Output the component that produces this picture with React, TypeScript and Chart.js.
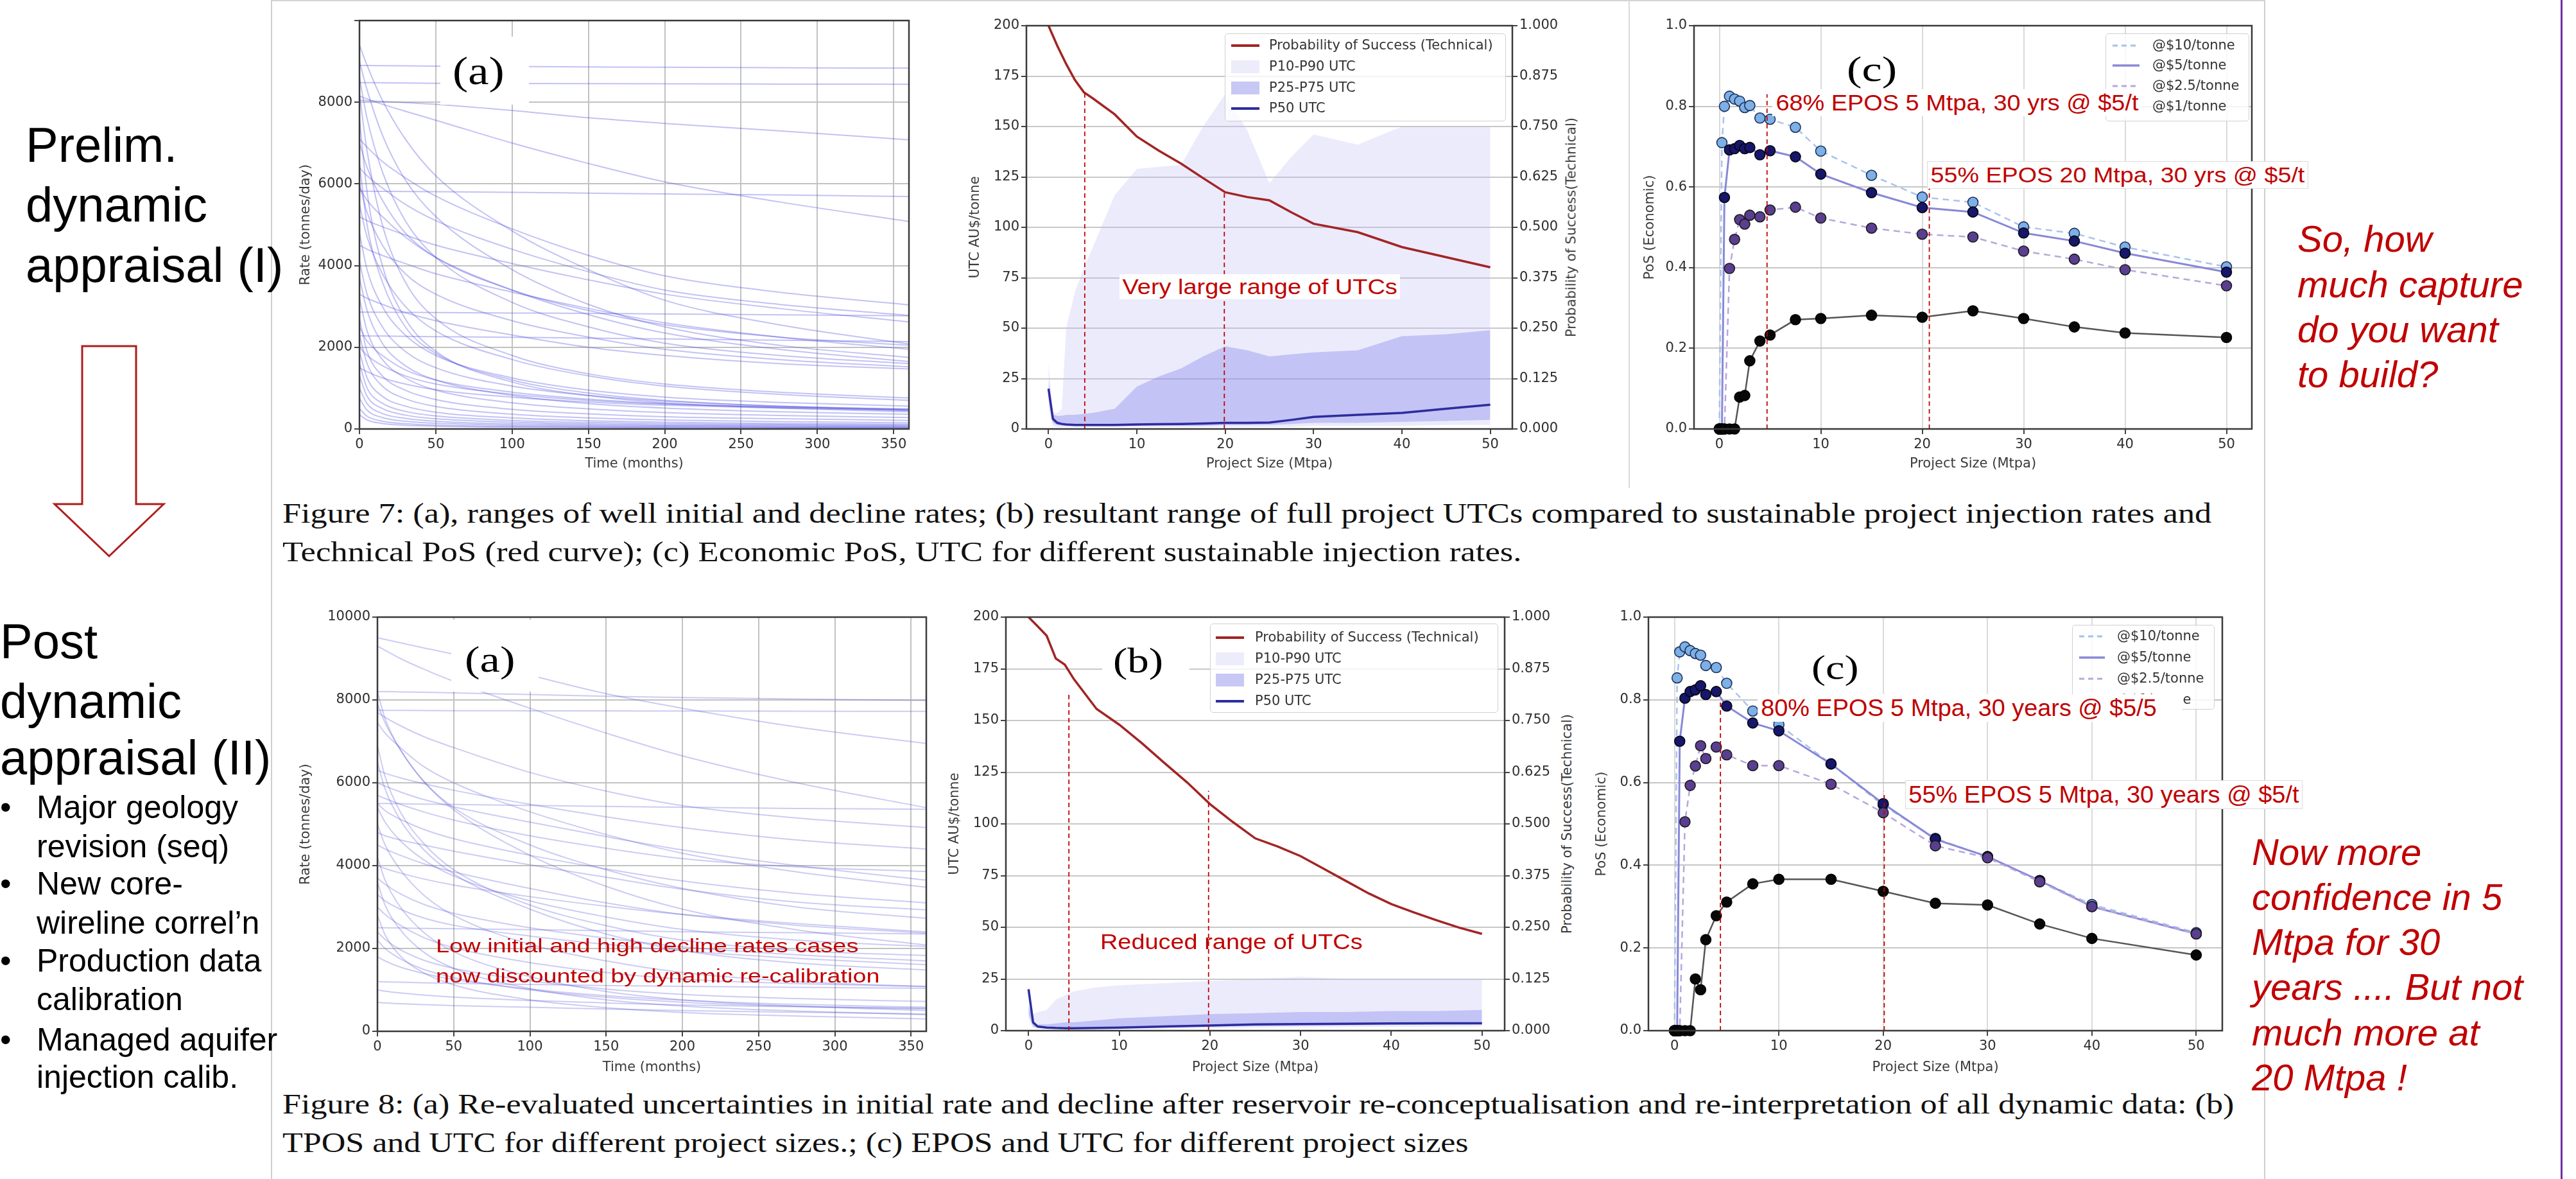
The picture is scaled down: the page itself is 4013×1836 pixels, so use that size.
import React, { useEffect, useLayoutEffect, useRef } from 'react';
import { Chart, registerables } from 'chart.js';
Chart.register(...registerables);

// ---------------- DATA ----------------
const rateTimes = [0, 5, 15, 30, 50, 100, 150, 200, 275, 360];
const rateTicksX = [0, 50, 100, 150, 200, 250, 300, 350];
const rateTicksY = [0, 2000, 4000, 6000, 8000, 10000];

const prelimRateCurves = [
  [8900, 8900, 8895, 8890, 8885, 8875, 8865, 8855, 8845, 8835],
  [8480, 8480, 8475, 8470, 8465, 8460, 8455, 8450, 8445, 8440],
  [8050, 8040, 8020, 7990, 7950, 7800, 7620, 7480, 7300, 7080],
  [8150, 8080, 7950, 7780, 7560, 7000, 6500, 6050, 5560, 5080],
  [5820, 5820, 5818, 5815, 5810, 5795, 5775, 5755, 5730, 5690],
  [9400, 8900, 8050, 7100, 6200, 4850, 3900, 3150, 2550, 2080],
  [9000, 8300, 7200, 6100, 5200, 3900, 3050, 2500, 2050, 1750],
  [8600, 7600, 6300, 5100, 4200, 3100, 2500, 2100, 1800, 1600],
  [7100, 6900, 6550, 6150, 5700, 4900, 4250, 3750, 3350, 3040],
  [6400, 6200, 5900, 5500, 5100, 4400, 3850, 3400, 3050, 2780],
  [7000, 6400, 5600, 4800, 4200, 3400, 2900, 2550, 2250, 2050],
  [5200, 5100, 4950, 4750, 4500, 4050, 3650, 3300, 2950, 2620],
  [4500, 4400, 4250, 4050, 3800, 3350, 2950, 2600, 2250, 1950],
  [6000, 5300, 4500, 3800, 3300, 2650, 2250, 1950, 1700, 1520],
  [2860, 2860, 2858, 2855, 2850, 2840, 2830, 2815, 2795, 2770],
  [2280, 2278, 2274, 2268, 2260, 2245, 2225, 2205, 2175, 2140],
  [5500, 4700, 3800, 3000, 2400, 1700, 1300, 1050, 850, 700],
  [4800, 3900, 3000, 2300, 1800, 1250, 950, 780, 650, 560],
  [4100, 3300, 2500, 1900, 1500, 1050, 820, 680, 560, 480],
  [6500, 5000, 3600, 2500, 1850, 1200, 880, 700, 560, 450],
  [3700, 2900, 2100, 1550, 1200, 820, 620, 510, 420, 360],
  [3200, 2400, 1700, 1250, 950, 640, 490, 400, 330, 280],
  [2700, 1900, 1300, 950, 720, 480, 370, 300, 250, 210],
  [2300, 1600, 1050, 740, 550, 360, 270, 220, 180, 150],
  [1900, 1250, 800, 560, 410, 270, 200, 165, 135, 115],
  [1600, 1000, 630, 430, 320, 210, 160, 130, 110, 90],
  [1300, 800, 500, 340, 250, 165, 125, 100, 85, 70],
  [1000, 620, 380, 260, 190, 125, 95, 78, 65, 55],
  [750, 460, 280, 190, 140, 92, 70, 58, 48, 40],
  [500, 310, 190, 130, 95, 62, 48, 40, 33, 28],
  [350, 220, 135, 92, 68, 45, 35, 28, 24, 20],
  [7600, 5800, 4000, 2700, 1900, 1150, 820, 640, 510, 420],
  [8200, 6800, 5000, 3600, 2700, 1800, 1350, 1100, 900, 760],
  [2000, 1800, 1550, 1300, 1100, 850, 700, 610, 540, 490],
  [1500, 1400, 1250, 1100, 960, 780, 660, 580, 510, 460],
  [2500, 2150, 1800, 1450, 1200, 900, 730, 620, 530, 470],
  [5900, 5600, 5200, 4700, 4200, 3400, 2800, 2350, 1950, 1650],
  [3300, 3200, 3050, 2850, 2650, 2300, 2000, 1800, 1600, 1470],
];

const postRateCurves = [
  [9500, 9460, 9380, 9260, 9100, 8600, 8150, 7800, 7350, 6950],
  [9300, 9200, 9000, 8750, 8450, 7800, 7200, 6650, 6000, 5400],
  [8200, 8200, 8195, 8185, 8170, 8130, 8090, 8060, 8025, 7990],
  [7750, 7750, 7748, 7745, 7742, 7738, 7735, 7732, 7728, 7725],
  [7700, 7580, 7380, 7120, 6850, 6250, 5800, 5450, 5150, 4920],
  [7450, 7200, 6850, 6400, 6000, 5300, 4750, 4300, 3850, 3480],
  [7900, 7450, 6800, 6050, 5400, 4500, 3900, 3450, 3000, 2730],
  [6300, 6230, 6120, 5980, 5820, 5480, 5180, 4920, 4620, 4400],
  [6000, 5920, 5780, 5600, 5420, 5050, 4700, 4380, 4000, 3650],
  [5500, 5500, 5495, 5485, 5475, 5455, 5430, 5410, 5380, 5360],
  [5700, 5620, 5480, 5300, 5100, 4720, 4420, 4170, 3970, 3860],
  [4800, 4720, 4620, 4500, 4350, 4020, 3720, 3430, 3120, 2930],
  [5400, 5050, 4600, 4150, 3750, 3150, 2760, 2460, 2200, 2050],
  [6900, 6150, 5300, 4550, 3900, 3050, 2550, 2200, 1950, 1830],
  [4000, 3930, 3820, 3680, 3530, 3250, 3020, 2820, 2600, 2400],
  [3700, 3550, 3320, 3070, 2850, 2500, 2250, 2040, 1850, 1700],
  [3300, 3150, 2950, 2740, 2560, 2300, 2100, 1940, 1760, 1610],
  [3000, 2820, 2560, 2270, 2020, 1660, 1420, 1260, 1150, 1080],
  [2500, 2500, 2495, 2485, 2475, 2455, 2430, 2405, 2380, 2350],
  [2400, 2220, 1970, 1720, 1520, 1220, 1020, 890, 790, 720],
  [1200, 1195, 1185, 1172, 1160, 1132, 1105, 1085, 1062, 1040],
  [1000, 970, 925, 875, 825, 745, 685, 635, 595, 560],
  [700, 685, 665, 645, 620, 580, 540, 500, 460, 420],
  [4200, 3650, 3000, 2400, 1920, 1320, 960, 760, 610, 500],
  [3600, 3050, 2450, 1920, 1520, 1030, 760, 610, 490, 400],
  [2800, 2330, 1820, 1420, 1120, 760, 570, 455, 370, 300],
  [8200, 7550, 6800, 6050, 5350, 4250, 3500, 2950, 2450, 2080],
  [6500, 5850, 5100, 4400, 3800, 2950, 2350, 1950, 1650, 1480],
  [5500, 5330, 5120, 4880, 4650, 4250, 3920, 3630, 3330, 3100],
  [4500, 4400, 4250, 4050, 3850, 3450, 3100, 2820, 2560, 2370],
  [1800, 1700, 1550, 1400, 1250, 1020, 860, 750, 650, 580],
  [2200, 2000, 1750, 1500, 1300, 1000, 820, 700, 600, 540],
  [5000, 4500, 3900, 3300, 2800, 2100, 1700, 1420, 1200, 1080],
];

const utcTicks = [0, 25, 50, 75, 100, 125, 150, 175, 200];
const tposTicks = [0, 0.125, 0.25, 0.375, 0.5, 0.625, 0.75, 0.875, 1.0];
const sizeTicks = [0, 10, 20, 30, 40, 50];

// Figure 7 (b)
const prelimTposX = [0, 1, 2, 3, 4, 5, 7.5, 10, 12.5, 15, 17.5, 20, 22.5, 25, 27.5, 30, 35, 40, 45, 50];
const prelimTpos = [1.0, 0.95, 0.905, 0.865, 0.835, 0.82, 0.78, 0.725, 0.69, 0.658, 0.622, 0.587, 0.575, 0.567, 0.537, 0.509, 0.488, 0.451, 0.426, 0.401];
const prelimBandX = [0, 0.5, 1, 1.5, 2, 3, 4, 5, 7.5, 10, 12.5, 15, 17.5, 20, 22.5, 25, 27.5, 30, 35, 40, 45, 50];
const prelimP90 = [33, 8, 8, 10, 50, 68, 80, 90, 116, 129, 130, 131, 150, 166, 148, 122, 135, 146, 141, 150, 150, 150];
const prelimP75 = [24, 7, 6.5, 6.5, 7, 7, 7.5, 8, 10, 21, 26, 30, 36, 41, 39, 36, 37, 38, 39, 46, 47, 49];
const prelimP50 = [20, 5, 3, 2.5, 2.2, 2, 2, 2, 2, 2.2, 2.4, 2.5, 2.7, 3, 3, 3.2, 4.5, 6, 7, 8, 10, 12];
const prelimP25 = [15, 3, 2, 1.5, 1.5, 1.5, 1.5, 1.5, 1.5, 1.5, 1.5, 1.5, 1.5, 2, 2, 2, 2.5, 3, 3, 3.5, 4, 4.5];
const prelimP10 = [10, 1.5, 1, 1, 1, 1, 1, 1, 1, 1, 1, 1, 1, 1, 1, 1, 1, 1.5, 1.5, 1.5, 2, 2];
const prelimUtcMarkers = [[4.1, 167], [19.9, 118]];

// Figure 8 (b)
const postTposX = [0, 1, 2, 3, 4, 5, 7.5, 10, 12.5, 15, 17.5, 20, 22.5, 25, 27.5, 30, 32.5, 35, 37.5, 40, 42.5, 45, 47.5, 50];
const postTpos = [1.0, 0.978, 0.955, 0.9, 0.885, 0.85, 0.778, 0.74, 0.695, 0.647, 0.6, 0.548, 0.505, 0.465, 0.445, 0.422, 0.392, 0.362, 0.332, 0.306, 0.286, 0.267, 0.249, 0.234];
const postBandX = [0, 0.5, 1, 2, 3, 4, 5, 7.5, 10, 15, 20, 25, 30, 35, 40, 45, 50];
const postP90 = [12, 8, 9, 10, 15, 17, 19, 21, 22, 23, 24, 25, 26, 25, 25, 25, 25];
const postP75 = [12, 4, 3, 3, 3.5, 4, 4, 5, 6, 7, 8, 8.5, 9, 9, 9.5, 9.5, 10];
const postP50 = [20, 4, 2, 1.5, 1.3, 1.2, 1.2, 1.3, 1.5, 2, 2.5, 3, 3.2, 3.3, 3.5, 3.6, 3.6];
const postP25 = [8, 2, 1.5, 1.2, 1, 1, 1, 1, 1.2, 1.5, 2, 2.2, 2.5, 2.6, 2.8, 2.9, 3];
const postP10 = [6, 1.5, 1, 0.8, 0.7, 0.7, 0.7, 0.7, 0.8, 1, 1.2, 1.5, 1.6, 1.7, 1.8, 1.9, 2];
const postUtcMarkers = [[4.45, 164], [19.85, 116]];

// (c) economic PoS
const eposTicks = [0, 0.2, 0.4, 0.6, 0.8, 1.0];
const eposSizes = [0, 0.25, 0.5, 1, 1.5, 2, 2.5, 3, 4, 5, 7.5, 10, 15, 20, 25, 30, 35, 40, 50];
const prelimEpos10 = [0, 0.71, 0.8, 0.825, 0.818, 0.813, 0.797, 0.802, 0.771, 0.768, 0.748, 0.689, 0.629, 0.575, 0.562, 0.501, 0.485, 0.451, 0.402];
const prelimEpos5 = [0, 0, 0.574, 0.692, 0.695, 0.703, 0.695, 0.698, 0.68, 0.69, 0.675, 0.632, 0.586, 0.549, 0.538, 0.486, 0.466, 0.436, 0.389];
const prelimEpos25 = [0, 0, 0, 0.398, 0.47, 0.519, 0.508, 0.53, 0.526, 0.543, 0.55, 0.523, 0.498, 0.483, 0.476, 0.441, 0.421, 0.395, 0.355];
const prelimEpos1 = [0, 0, 0, 0, 0, 0.079, 0.083, 0.169, 0.218, 0.233, 0.271, 0.274, 0.282, 0.277, 0.293, 0.274, 0.253, 0.238, 0.227];
const prelimEposMarkers = [[4.7, 0.83], [20.7, 0.62]];

const postEpos10 = [0, 0.853, 0.916, 0.928, 0.919, 0.912, 0.908, 0.883, 0.878, 0.84, 0.773, 0.74, 0.645, 0.545, 0.465, 0.42, 0.363, 0.305, 0.237];
const postEpos5 = [0, 0, 0.7, 0.804, 0.82, 0.824, 0.834, 0.813, 0.82, 0.785, 0.744, 0.725, 0.645, 0.549, 0.463, 0.421, 0.363, 0.3, 0.234];
const postEpos25 = [0, 0, 0, 0.505, 0.593, 0.64, 0.689, 0.658, 0.686, 0.667, 0.641, 0.641, 0.596, 0.527, 0.447, 0.418, 0.36, 0.3, 0.234];
const postEpos1 = [0, 0, 0, 0, 0, 0.125, 0.099, 0.22, 0.278, 0.311, 0.355, 0.366, 0.366, 0.337, 0.308, 0.304, 0.258, 0.223, 0.183];
const postEposMarkers = [[4.4, 0.8], [20.1, 0.578]];

// ---------------- STYLE HELPERS ----------------
const DV = '"DejaVu Sans", sans-serif';
const tickFont = { family: DV, size: 21, lineHeight: 1.2 };
const titleFont = { family: DV, size: 21, lineHeight: 1.2 };
const HALF = 12.6;
const C_TICK = '#2e2e2e';
const C_TITLE = '#3a3a3a';
const RED = '#C00000';

const framePlugin = {
  id: 'frame',
  afterDraw(chart: any) {
    const { ctx, chartArea: a } = chart;
    ctx.save();
    ctx.strokeStyle = '#3a3a3a';
    ctx.lineWidth = 2.5;
    ctx.strokeRect(a.left, a.top, a.right - a.left, a.bottom - a.top);
    ctx.restore();
  },
};

function gridOpts(onArea: boolean, color: string) {
  return { drawOnChartArea: onArea, color, lineWidth: 2, drawTicks: true, tickLength: 8, tickColor: '#444', tickWidth: 2 };
}

function makeX(min: number, max: number, ticks: number[], h: number, title: string, onArea: boolean, color = '#c6c6c6') {
  return {
    type: 'linear', position: 'bottom', min, max,
    afterBuildTicks: (s: any) => { s.ticks = ticks.map((v) => ({ value: v })); },
    afterFit: (s: any) => { s.height = h; },
    ticks: { font: tickFont, color: C_TICK, padding: 4, maxRotation: 0, autoSkip: false, callback: (v: any) => String(v) },
    grid: gridOpts(onArea, color),
    border: { display: false },
    title: { display: true, text: title, font: titleFont, color: C_TITLE, padding: 0 },
  };
}

function makeY(min: number, max: number, ticks: number[], w: number, title: string | null, onArea: boolean, fmt: (v: number) => string, position = 'left', color = '#c6c6c6') {
  return {
    type: 'linear', position, min, max,
    afterBuildTicks: (s: any) => { s.ticks = ticks.map((v) => ({ value: v })); },
    afterFit: (s: any) => { s.width = w; },
    ticks: { font: tickFont, color: C_TICK, padding: 3, autoSkip: false, callback: (v: any) => fmt(v) },
    grid: gridOpts(onArea, color),
    border: { display: false },
    title: title ? { display: true, text: title, font: titleFont, color: C_TITLE, padding: 0 } : { display: false },
  };
}

const pts = (xs: number[], ys: number[]) => xs.map((x, i) => ({ x, y: ys[i] }));
const markerSets = (m: number[][]) => m.map(([x, y]) => ({
  data: [{ x, y: 0 }, { x, y }], borderColor: RED, borderWidth: 1.8, borderDash: [7, 5], pointRadius: 0, order: 0, clip: false,
}));

type Box = { L: number; T: number; R: number; B: number; yTitleX: number; xTitleY: number; rightPad: number; rightAxis?: boolean };

function ChartBox({ box, make }: { box: Box; make: (g: any) => any }) {
  const ref = useRef<HTMLCanvasElement>(null);
  const left = Math.round(box.yTitleX - HALF);
  const top = box.T - 20;
  const right = box.R + box.rightPad;
  const bottom = Math.round(box.xTitleY + HALF);
  const W = right - left;
  const H = bottom - top;
  useEffect(() => {
    const g = { wl: box.L - left, hx: bottom - box.B, wr: box.rightPad };
    const cfg = make(g);
    cfg.options = {
      animation: false, responsive: false, events: [],
      plugins: { legend: { display: false }, tooltip: { enabled: false } },
      layout: { padding: { top: 20, right: box.rightAxis ? 0 : box.rightPad, left: 0, bottom: 0 } },
      ...cfg.options,
    };
    cfg.plugins = [framePlugin];
    const ch = new Chart(ref.current as HTMLCanvasElement, cfg);
    return () => ch.destroy();
  }, []);
  return <canvas ref={ref} width={W} height={H} style={{ position: 'absolute', left, top, width: W, height: H }} />;
}

// ---------------- CHART BUILDERS ----------------
function rateChart(curves: number[][], hideTop: boolean, lineColor: string) {
  return (g: any) => ({
    type: 'line',
    data: {
      datasets: curves.map((c) => ({
        data: pts(rateTimes, c), borderColor: lineColor, borderWidth: 2, pointRadius: 0,
        cubicInterpolationMode: 'monotone', fill: false,
      })),
    },
    options: {
      scales: {
        x: makeX(0, 360, rateTicksX, g.hx, 'Time (months)', true, '#c2c2c2'),
        y: makeY(0, 10000, rateTicksY, g.wl, 'Rate (tonnes/day)', true, (v) => (hideTop && v === 10000 ? '' : String(v)), 'left', '#c2c2c2'),
      },
    },
  });
}

function utcChart(bx: number[], p10: number[], p25: number[], p50: number[], p75: number[], p90: number[], tx: number[], tpos: number[], markers: number[][]) {
  const none = 'rgba(0,0,0,0)';
  return (g: any) => ({
    type: 'line',
    data: {
      datasets: [
        { data: pts(bx, p10), borderColor: none, borderWidth: 0, pointRadius: 0, fill: false, order: 10 },
        { data: pts(bx, p90), borderColor: none, borderWidth: 0, pointRadius: 0, fill: '-1', backgroundColor: 'rgba(190,190,245,0.3)', order: 10 },
        { data: pts(bx, p25), borderColor: none, borderWidth: 0, pointRadius: 0, fill: false, order: 9 },
        { data: pts(bx, p75), borderColor: none, borderWidth: 0, pointRadius: 0, fill: '-1', backgroundColor: 'rgba(120,120,235,0.35)', order: 9 },
        { data: pts(bx, p50), borderColor: '#2d2d9e', borderWidth: 3.5, pointRadius: 0, fill: false, order: 2 },
        { data: pts(tx, tpos), yAxisID: 'y2', borderColor: '#a32424', borderWidth: 3.5, pointRadius: 0, fill: false, order: 1 },
        ...markerSets(markers),
      ],
    },
    options: {
      scales: {
        x: makeX(-2.5, 52.5, sizeTicks, g.hx, 'Project Size (Mtpa)', false),
        y: makeY(0, 200, utcTicks, g.wl, 'UTC AU$/tonne', true, (v) => String(v), 'left', '#c8c8c8'),
        y2: makeY(0, 1, tposTicks, g.wr, null, false, (v) => v.toFixed(3), 'right'),
      },
    },
  });
}

function eposChart(s10: number[], s5: number[], s25: number[], s1: number[], markers: number[][]) {
  const ser = (vals: number[], line: string, dash: number[] | undefined, lw: number, fillC: string, edge: string, order: number) => ({
    data: pts(eposSizes, vals), borderColor: line, borderWidth: lw, borderDash: dash, pointRadius: 8,
    pointBackgroundColor: fillC, pointBorderColor: edge, pointBorderWidth: 1.6, fill: false, clip: false, order,
  });
  return (g: any) => ({
    type: 'line',
    data: {
      datasets: [
        ser(s10, 'rgba(165,192,236,0.95)', [10, 7], 2.5, '#7cb0e6', '#1d2f5a', 4),
        ser(s5, '#8888d8', undefined, 3, '#16166a', '#050510', 3),
        ser(s25, '#b8a6dc', [10, 7], 2.5, '#5a3e90', '#1a1a1a', 2),
        ser(s1, '#555555', undefined, 2.5, '#080808', '#000000', 1),
        ...markerSets(markers),
      ],
    },
    options: {
      scales: {
        x: makeX(-2.5, 52.5, sizeTicks, g.hx, 'Project Size (Mtpa)', true, '#dadada'),
        y: makeY(0, 1, eposTicks, g.wl, 'PoS (Economic)', true, (v) => v.toFixed(1), 'left', '#c6c6c6'),
      },
    },
  });
}

// ---------------- TEXT OVERLAYS ----------------
const FAM: any = {
  sans: { a: 0.905, d: 0.212, f: '"Liberation Sans", Arial, sans-serif' },
  serif: { a: 0.891, d: 0.216, f: '"Liberation Serif", "Times New Roman", serif' },
  dv: { a: 0.928, d: 0.236, f: DV },
};

function T(p: { x: number; base: number; size: number; text: string; fam?: string; color?: string; italic?: boolean; w?: number; bg?: string; padL?: number; padR?: number; lh?: number; border?: string }) {
  const m = FAM[p.fam || 'sans'];
  const lh = (p.lh || 1.2) * p.size;
  const top = p.base - ((lh - (m.a + m.d) * p.size) / 2 + m.a * p.size);
  const padL = p.padL || 0;
  const padR = p.padR ?? padL;
  return (
    <div
      data-fit={p.w ? String(p.w + padL + padR) : ''}
      style={{
        position: 'absolute', left: p.x - padL, top, fontFamily: m.f, fontSize: p.size, lineHeight: `${lh}px`,
        color: p.color || '#000', fontStyle: p.italic ? 'italic' : 'normal', whiteSpace: 'pre', background: p.bg,
        paddingLeft: padL, paddingRight: padR, transformOrigin: '0 0', border: p.border, boxSizing: 'content-box',
      }}
    >
      {p.text}
    </div>
  );
}

function Rect({ x, y, w, h, bg = '#fff' }: any) {
  return <div style={{ position: 'absolute', left: x, top: y, width: w, height: h, background: bg }} />;
}

type LegItem = { label: string; kind: 'line' | 'dash' | 'patch'; color: string; lw?: number };
function Legend({ x, y, w, h, items, rows, hx, hw, tx }: { x: number; y: number; w: number; h: number; items: LegItem[]; rows: number[]; hx: number; hw: number; tx: number }) {
  return (
    <div style={{ position: 'absolute', left: x, top: y, width: w, height: h, background: 'rgba(255,255,255,0.8)', border: '1.5px solid #d0d0d0', borderRadius: 5, boxSizing: 'border-box' }}>
      {items.map((it, i) => {
        const cy = rows[i] - y;
        return (
          <React.Fragment key={i}>
            <svg style={{ position: 'absolute', left: hx - x, top: cy - 12 }} width={hw} height={24}>
              {it.kind === 'patch'
                ? <rect x={0} y={2} width={hw} height={20} fill={it.color} />
                : <line x1={0} x2={hw} y1={12} y2={12} stroke={it.color} strokeWidth={it.lw || 3} strokeDasharray={it.kind === 'dash' ? '8 6' : undefined} />}
            </svg>
            <div style={{ position: 'absolute', left: tx - x, top: cy - 13, fontFamily: DV, fontSize: 21, lineHeight: '24px', color: '#333', whiteSpace: 'pre' }}>{it.label}</div>
          </React.Fragment>
        );
      })}
    </div>
  );
}

function VTitle({ cx, cy, text }: { cx: number; cy: number; text: string }) {
  return (
    <div style={{ position: 'absolute', left: cx, top: cy, transform: 'translate(-50%,-50%) rotate(-90deg)', fontFamily: DV, fontSize: 21, lineHeight: '25px', color: C_TITLE, whiteSpace: 'pre' }}>{text}</div>
  );
}

function Line({ x, y, w, h, c }: any) {
  return <div style={{ position: 'absolute', left: x, top: y, width: w, height: h, background: c }} />;
}

const uLegend: LegItem[] = [
  { label: 'Probability of Success (Technical)', kind: 'line', color: '#a32424', lw: 4 },
  { label: 'P10-P90 UTC', kind: 'patch', color: '#ececfb' },
  { label: 'P25-P75 UTC', kind: 'patch', color: '#c8c8f5' },
  { label: 'P50 UTC', kind: 'line', color: '#2d2d9e', lw: 4 },
];
const eLegend: LegItem[] = [
  { label: '@$10/tonne', kind: 'dash', color: '#a5c0ec', lw: 3 },
  { label: '@$5/tonne', kind: 'line', color: '#8888d8', lw: 3.5 },
  { label: '@$2.5/tonne', kind: 'dash', color: '#b8a6dc', lw: 3 },
  { label: '@$1/tonne', kind: 'line', color: '#555555', lw: 3 },
];

// ---------------- APP ----------------
export default function App() {
  useLayoutEffect(() => {
    document.querySelectorAll('[data-fit]').forEach((el: any) => {
      const t = parseFloat(el.dataset.fit);
      if (!t) return;
      const cw = el.offsetWidth;
      if (cw > 0) el.style.transform = `scaleX(${t / cw})`;
    });
  }, []);

  const boxes: Record<string, Box> = {
    topA: { L: 560, T: 32, R: 1416, B: 668, yTitleX: 477, xTitleY: 722, rightPad: 20 },
    topB: { L: 1599, T: 40, R: 2356, B: 668, yTitleX: 1520, xTitleY: 722, rightPad: 80, rightAxis: true },
    topC: { L: 2639, T: 40, R: 3508, B: 668, yTitleX: 2571, xTitleY: 722, rightPad: 18 },
    botA: { L: 588, T: 961, R: 1443, B: 1606, yTitleX: 477, xTitleY: 1662, rightPad: 20 },
    botB: { L: 1567, T: 961, R: 2344, B: 1605, yTitleX: 1488, xTitleY: 1662, rightPad: 80, rightAxis: true },
    botC: { L: 2568, T: 961, R: 3462, B: 1605, yTitleX: 2496, xTitleY: 1662, rightPad: 20 },
  };

  return (
    <div style={{ position: 'fixed', left: 0, top: 0, width: 4013, height: 1836, background: '#fff', overflow: 'hidden' }}>
      {/* slide frame lines */}
      <Line x={422} y={0} w={2} h={1836} c="#cfcfcf" />
      <Line x={3527} y={0} w={2} h={1836} c="#cfcfcf" />
      <Line x={422} y={0} w={3106} h={2} c="#d4d4d4" />
      <Line x={2537} y={0} w={2} h={760} c="#dadada" />
      <Line x={3989} y={0} w={3} h={1836} c="#7030a0" />

      <ChartBox box={boxes.topA} make={rateChart(prelimRateCurves, true, 'rgba(75,75,225,0.34)')} />
      <ChartBox box={boxes.topB} make={utcChart(prelimBandX, prelimP10, prelimP25, prelimP50, prelimP75, prelimP90, prelimTposX, prelimTpos, prelimUtcMarkers)} />
      <ChartBox box={boxes.topC} make={eposChart(prelimEpos10, prelimEpos5, prelimEpos25, prelimEpos1, prelimEposMarkers)} />
      <ChartBox box={boxes.botA} make={rateChart(postRateCurves, false, 'rgba(85,85,215,0.3)')} />
      <ChartBox box={boxes.botB} make={utcChart(postBandX, postP10, postP25, postP50, postP75, postP90, postTposX, postTpos, postUtcMarkers)} />
      <ChartBox box={boxes.botC} make={eposChart(postEpos10, postEpos5, postEpos25, postEpos1, postEposMarkers)} />

      <VTitle cx={2448} cy={354} text="Probability of Success(Technical)" />
      <VTitle cx={2441} cy={1283} text="Probability of Success(Technical)" />

      {/* panel labels */}
      <Rect x={686} y={57} w={138} h={106} />
      <T x={705} base={131} size={61} fam="serif" text="(a)" w={81} />
      <T x={2877} base={127} size={55} fam="serif" text="(c)" w={78} />
      <Rect x={703} y={965} w={136} h={112} />
      <T x={724} base={1046} size={58} fam="serif" text="(a)" w={78} />
      <Rect x={1717} y={985} w={136} h={90} />
      <T x={1734} base={1048} size={55} fam="serif" text="(b)" w={78} />
      <T x={2822} base={1058} size={52} fam="serif" text="(c)" w={74} />

      {/* legends */}
      <Legend x={1908} y={52} w={438} h={137} items={uLegend} rows={[70, 103, 136, 168]} hx={1917} hw={44} tx={1976} />
      <Legend x={1885} y={971} w={449} h={139} items={uLegend} rows={[992, 1025, 1058, 1091]} hx={1893} hw={44} tx={1954} />
      <Legend x={3280} y={52} w={224} h={137} items={eLegend} rows={[70, 101, 133, 165]} hx={3290} hw={42} tx={3352} />
      <Legend x={3228} y={973} w={222} h={132} items={eLegend} rows={[990, 1023, 1056, 1089]} hx={3238} hw={40} tx={3297} />

      {/* red annotations in charts */}
      <T x={1748} base={458} size={33} color={RED} text="Very large range of UTCs" w={429} bg="#fff" padL={4} />
      <T x={1714} base={1478} size={34} color={RED} text="Reduced range of UTCs" w={409} />
      <T x={2766} base={172} size={35} color={RED} text="68% EPOS 5 Mtpa, 30 yrs @ $5/t" w={566} bg="#fff" padL={5} />
      <T x={3006} base={283} size={34} color={RED} text="55% EPOS 20 Mtpa, 30 yrs @ $5/t" w={586} bg="#fff" padL={4} border="1px solid #dcdcdc" />
      <T x={2743} base={1115} size={36} color={RED} text="80% EPOS 5 Mtpa, 30 years @ $5/5" w={619} bg="#fff" padL={5} padR={38} />
      <T x={2972} base={1249} size={36} color={RED} text="55% EPOS 5 Mtpa, 30 years @ $5/t" w={611} bg="#fff" padL={4} border="1px solid #dcdcdc" />
      <T x={679} base={1483} size={30} color={RED} text="Low initial and high decline rates cases" w={658} />
      <T x={679} base={1530} size={30} color={RED} text="now discounted by dynamic re-calibration" w={691} />

      {/* captions */}
      <T x={440} base={815} size={44} fam="serif" color="#111" w={3005} text="Figure 7: (a), ranges of well initial and decline rates; (b) resultant range of full project UTCs compared to sustainable project injection rates and" />
      <T x={440} base={875} size={44} fam="serif" color="#111" w={1930} text="Technical PoS (red curve); (c) Economic PoS, UTC for different sustainable injection rates." />
      <T x={440} base={1735} size={44} fam="serif" color="#111" w={3040} text="Figure 8: (a) Re-evaluated uncertainties in initial rate and decline after reservoir re-conceptualisation and re-interpretation of all dynamic data: (b)" />
      <T x={440} base={1795} size={44} fam="serif" color="#111" w={1848} text="TPOS and UTC for different project sizes.; (c) EPOS and UTC for different project sizes" />

      {/* left slide text */}
      <T x={40} base={252} size={76} text="Prelim." />
      <T x={40} base={345} size={76} text="dynamic" />
      <T x={40} base={439} size={76} text="appraisal (I)" />
      <svg style={{ position: 'absolute', left: 0, top: 0 }} width={300} height={900}>
        <path d="M128 539 H212 V785 H255 L170 866 L85 785 H128 Z" fill="#fff" stroke="#b01c1c" strokeWidth={3} />
      </svg>
      <T x={0} base={1025} size={76} text="Post" />
      <T x={0} base={1118} size={76} text="dynamic" />
      <T x={0} base={1206} size={76} text="appraisal (II)" />
      <T x={0} base={1274} size={50} text="•" />
      <T x={57} base={1274} size={50} text="Major geology" />
      <T x={57} base={1335} size={50} text="revision (seq)" />
      <T x={0} base={1393} size={50} text="•" />
      <T x={57} base={1393} size={50} text="New core-" />
      <T x={57} base={1454} size={50} text="wireline correl’n" />
      <T x={0} base={1513} size={50} text="•" />
      <T x={57} base={1513} size={50} text="Production data" />
      <T x={57} base={1573} size={50} text="calibration" />
      <T x={0} base={1636} size={50} text="•" />
      <T x={57} base={1636} size={50} text="Managed aquifer" />
      <T x={57} base={1694} size={50} text="injection calib." />

      {/* right slide text */}
      <T x={3579} base={392} size={58} italic color={RED} text="So, how" />
      <T x={3579} base={463} size={58} italic color={RED} text="much capture" />
      <T x={3579} base={533} size={58} italic color={RED} text="do you want" />
      <T x={3579} base={603} size={58} italic color={RED} text="to build?" />
      <T x={3508} base={1347} size={58} italic color={RED} text="Now more" />
      <T x={3508} base={1417} size={58} italic color={RED} text="confidence in 5" />
      <T x={3508} base={1487} size={58} italic color={RED} text="Mtpa for 30" />
      <T x={3508} base={1557} size={58} italic color={RED} text="years .... But not" />
      <T x={3508} base={1628} size={58} italic color={RED} text="much more at" />
      <T x={3508} base={1698} size={58} italic color={RED} text="20 Mtpa !" />
    </div>
  );
}
